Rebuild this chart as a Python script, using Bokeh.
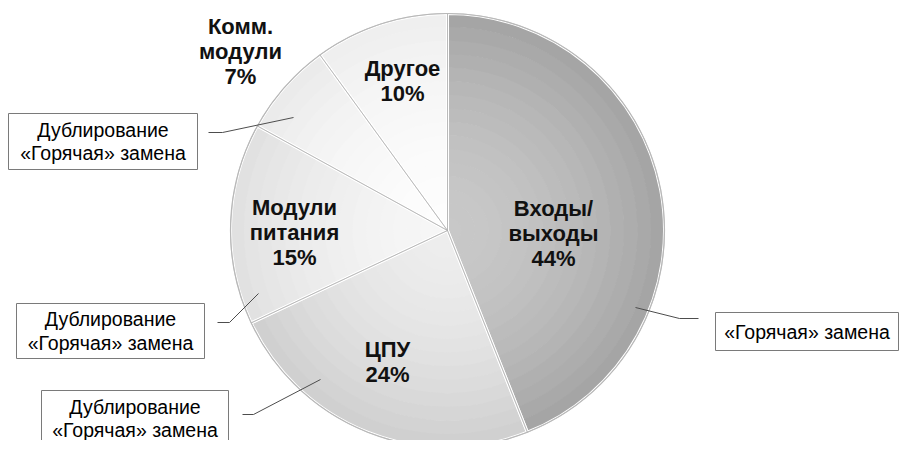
import numpy as np
from bokeh.plotting import figure
from bokeh.models import Range1d
from bokeh.core.properties import value
from bokeh.embed import file_html
from bokeh.resources import INLINE

# ---- data ----
categories = ["Входы/\nвыходы", "ЦПУ", "Модули\nпитания", "Комм.\nмодули", "Другое"]
shares = [44, 24, 15, 7, 10]
callout_texts = ["«Горячая» замена", "Дублирование\n«Горячая» замена",
                 "Дублирование\n«Горячая» замена", "Дублирование\n«Горячая» замена"]

# ---- style / layout ----
center_col = [(200, 200, 200), (237, 237, 237), (246, 246, 246), (253, 253, 253), (253, 253, 253)]
rim_col = [(163, 163, 163), (206, 206, 206), (224, 224, 224), (234, 234, 234), (238, 238, 238)]
label_offsets = [(106, 3), (-60, 131), (-153, 2), (-207, -179), (-45, -150)]  # px from pie centre

W, H = 899, 440
def Y(sy):
    return H - sy

p = figure(width=W, height=H, output_backend="svg", toolbar_location=None,
           x_range=Range1d(0, W), y_range=Range1d(0, H), min_border=0)
p.axis.visible = False
p.grid.visible = False
p.outline_line_color = None
p.background_fill_color = "white"

cx, cy, R = 447, Y(230), 217
frac = np.array(shares, dtype=float) / sum(shares)
cum = np.concatenate([[0], np.cumsum(frac)])
starts = np.pi / 2 - 2 * np.pi * cum[:-1]
ends = np.pi / 2 - 2 * np.pi * cum[1:]

N = 16
for i in range(len(shares)):
    for k in range(N):
        t = (k + 0.5) / N
        w = t ** 1.8
        c = tuple(int(round(center_col[i][j] + (rim_col[i][j] - center_col[i][j]) * w)) for j in range(3))
        p.annular_wedge(x=cx, y=cy, inner_radius=R * k / N, outer_radius=R * (k + 1) / N + 0.6,
                        start_angle=starts[i], end_angle=ends[i], direction="clock",
                        fill_color="#%02x%02x%02x" % c, line_color=None)

# separators and outline
p.wedge(x=cx, y=cy, radius=R, start_angle=starts, end_angle=ends, direction="clock",
        fill_color=None, line_color="white", line_width=3)
p.wedge(x=cx, y=cy, radius=R, start_angle=starts, end_angle=ends, direction="clock",
        fill_color=None, line_color="#a9a9a9", line_width=0.8, line_alpha=0.7)
p.circle(x=[cx], y=[cy], radius=R, fill_color=None, line_color="#b8b8b8", line_width=1.2)

# slice labels
lx = [cx + o[0] for o in label_offsets]
ly = [cy - o[1] for o in label_offsets]
texts = [f"{c}\n{s}%" for c, s in zip(categories, shares)]
p.text(x=lx, y=ly, text=texts, text_align="center", text_baseline="middle",
       text_font=value("Liberation Sans"), text_font_style="bold", text_font_size="22px",
       text_color="#111111", text_line_height=1.0)

# callouts: leader points (px), boxes, text centres
leaders = [
    [(635, 307), (679, 318), (698, 318)],
    [(320, 379), (253, 414), (242, 414)],
    [(258, 293), (229, 322), (217, 322)],
    [(293, 117), (222, 132), (208, 132)],
]
boxes = [(715, 312, 898, 350), (41, 390, 228, 446), (16, 303, 204, 358), (8, 113, 197, 169)]
text_centres = [(806.5, 331), (134.5, 418), (110, 330.5), (102.5, 141)]
for pts in leaders:
    p.line(x=[q[0] for q in pts], y=[Y(q[1]) for q in pts], line_color="#4d4d4d", line_width=1)
p.quad(left=[b[0] for b in boxes], right=[b[2] for b in boxes],
       top=[Y(b[1]) for b in boxes], bottom=[Y(b[3]) for b in boxes],
       fill_color="white", line_color="#7a7a7a", line_width=1)
p.text(x=[t[0] for t in text_centres], y=[Y(t[1]) for t in text_centres],
       text=callout_texts, text_align="center", text_baseline="middle",
       text_font=value("Liberation Sans"), text_font_size="19.5px", text_color="#000000",
       text_line_height=1.08)

open("out.html", "w").write(file_html(p, INLINE))
